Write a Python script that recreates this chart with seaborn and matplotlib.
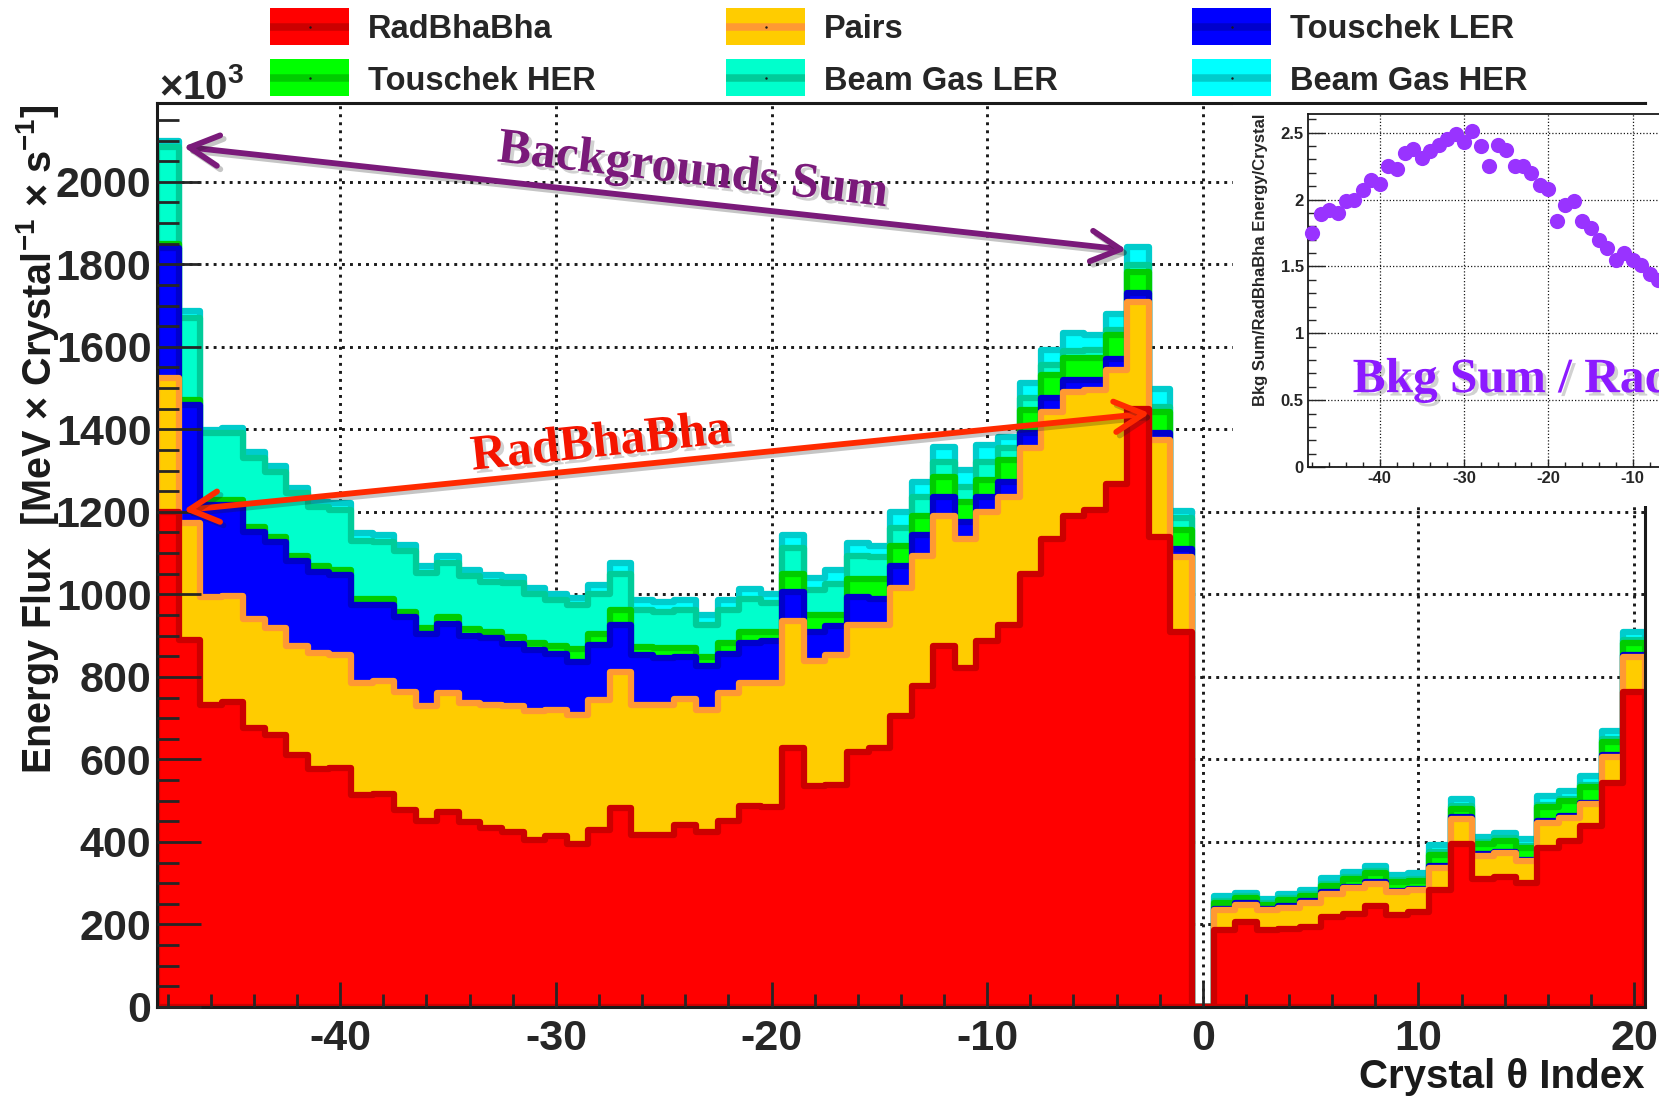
import numpy as np
import pandas as pd
import matplotlib
matplotlib.use('Agg')
import matplotlib.pyplot as plt
import matplotlib.patheffects as pe
from matplotlib.patches import Rectangle
from matplotlib.lines import Line2D
from matplotlib.colors import to_hex
from matplotlib.ticker import MultipleLocator, FuncFormatter
import seaborn as sns

# ---------------------------------------------------------------
# data: energy flux per crystal (x10^3 MeV / crystal / s), crystal theta index -48..20
crystal = np.arange(-48, 21)

rad = [1200, 890, 733, 739, 676, 658, 611, 577, 579, 513,
       517, 477, 451, 473, 449, 434, 424, 405, 414, 396,
       429, 482, 416, 418, 442, 424, 451, 487, 485, 628,
       536, 538, 618, 628, 706, 778, 875, 822, 887, 927,
       1050, 1134, 1191, 1204, 1268, 1450, 1138, 910,
       0,
       186, 207, 186, 189, 194, 218, 226, 245, 222, 229,
       283, 394, 310, 315, 301, 385, 402, 439, 543, 764]

pairs = [325, 284, 261, 258, 264, 260, 264, 280, 273, 273,
         272, 287, 278, 288, 288, 299, 305, 312, 306, 312,
         315, 330, 317, 315, 304, 296, 309, 299, 301, 307,
         302, 314, 309, 299, 309, 316, 315, 312, 313, 310,
         304, 309, 300, 291, 277, 259, 236, 180,
         0,
         49, 41, 49, 52, 59, 57, 62, 54, 57, 54,
         55, 62, 57, 57, 53, 62, 56, 52, 63, 84]

tous_ler = [315, 286, 223, 220, 210, 210, 205, 198, 196, 189,
            186, 181, 176, 167, 163, 162, 151, 148, 135, 127,
            134, 115, 119, 112, 102, 106, 96, 97, 101, 71,
            71, 71, 67, 62, 54, 49, 47, 42, 37, 36,
            36, 32, 29, 25, 25, 21, 18, 19,
            0,
            3, 3, 3, 3, 3, 3, 3, 3, 3, 3,
            4, 4, 3, 3, 3, 4, 4, 4, 4, 4]

tous_her = [10, 11, 12, 12, 13, 11, 14, 13, 11, 14,
            14, 13, 13, 18, 16, 14, 17, 18, 20, 33,
            25, 35, 21, 25, 22, 22, 27, 26, 22, 44,
            40, 26, 43, 48, 48, 48, 48, 49, 40, 53,
            57, 57, 52, 52, 59, 52, 51, 47,
            0,
            15, 13, 10, 15, 12, 16, 18, 22, 21, 20,
            27, 21, 24, 28, 28, 33, 37, 37, 33, 29]

bg_ler = [235, 199, 161, 161, 167, 158, 151, 145, 146, 141,
          139, 147, 134, 131, 128, 122, 130, 118, 112, 107,
          97, 88, 89, 88, 92, 79, 79, 80, 71, 62,
          62, 75, 57, 54, 44, 45, 37, 36, 45, 28,
          28, 24, 19, 20, 12, 16, 12, 28,
          0,
          5, 5, 4, 5, 5, 5, 6, 5, 5, 5,
          6, 6, 5, 6, 6, 6, 6, 7, 7, 8]

bg_her = [15, 18, 8, 14, 14, 14, 12, 12, 16, 19,
          17, 15, 17, 15, 15, 15, 15, 15, 15, 16,
          23, 25, 24, 24, 24, 22, 24, 24, 22, 33,
          29, 35, 31, 26, 39, 36, 36, 40, 40, 28,
          38, 36, 42, 37, 39, 44, 42, 18,
          0,
          10, 8, 9, 11, 11, 13, 13, 13, 12, 13,
          17, 18, 13, 13, 17, 21, 19, 22, 18, 21]

# inset: Bkg Sum / RadBhaBha, visible points for crystals -48..-7
ratio = [1.75, 1.89, 1.92, 1.90, 1.99, 2.00, 2.07, 2.15, 2.12, 2.25,
         2.23, 2.35, 2.38, 2.31, 2.36, 2.41, 2.45, 2.49, 2.43, 2.51,
         2.40, 2.25, 2.41, 2.37, 2.25, 2.25, 2.20, 2.11, 2.08, 1.84,
         1.96, 1.99, 1.84, 1.79, 1.70, 1.64, 1.55, 1.60, 1.55, 1.51,
         1.44, 1.40]

sources = ['RadBhaBha', 'Pairs', 'Touschek LER', 'Touschek HER', 'Beam Gas LER', 'Beam Gas HER']
fills = ['#ff0000', '#ffcc00', '#0000ff', '#00ff00', '#00ffcc', '#00ffff']
edges_col = ['#cc0000', '#ff9933', '#0000cc', '#00cc00', '#00cc99', '#00cccc']

# ---------------------------------------------------------------
sns.set_theme(style='white')
plt.rcParams['font.family'] = ['Liberation Sans', 'DejaVu Sans']
plt.rcParams['font.weight'] = 'bold'
plt.rcParams['axes.labelweight'] = 'bold'
plt.rcParams['axes.unicode_minus'] = False
plt.rcParams['mathtext.fontset'] = 'custom'
plt.rcParams['mathtext.rm'] = 'Liberation Sans'
plt.rcParams['mathtext.bf'] = 'Liberation Sans:bold'
plt.rcParams['mathtext.default'] = 'bf'

# stacked like ROOT THStack: every cumulative sum drawn from zero, biggest first
layers = np.array([rad, pairs, tous_ler, tous_her, bg_ler, bg_her], dtype=float)
cum = np.cumsum(layers, axis=0)
df = pd.concat([pd.DataFrame({'crystal': crystal, 'flux': cum[k], 'source': s})
                for k, s in enumerate(sources)], ignore_index=True)

fig = plt.figure(figsize=(16.59, 10.98), dpi=100)
ax = fig.add_axes([0.0946, 0.0829, 0.8969, 0.8233])

sns.histplot(data=df, x='crystal', weights='flux', hue='source', hue_order=sources,
             multiple='layer', binwidth=1, binrange=(crystal[0] - 0.5, crystal[-1] + 0.5),
             element='step', fill=True,
             palette=dict(zip(sources, fills)), alpha=1, linewidth=4.5,
             legend=False, ax=ax)

# darker outline per layer, lowest layer on top
for coll in ax.collections:
    k = fills.index(to_hex(coll.get_facecolor()[0]))
    coll.set_edgecolor(edges_col[k])
    coll.set_zorder(1.0 + 0.2 * (len(sources) - k))

ax.set_xlim(-48.5, 20.5)
ax.set_ylim(0, 2191)
ax.xaxis.set_major_locator(MultipleLocator(10))
ax.xaxis.set_minor_locator(MultipleLocator(2))
ax.yaxis.set_major_locator(MultipleLocator(200))
ax.yaxis.set_minor_locator(MultipleLocator(50))
ax.set_axisbelow(False)

# dotted grid behind the histograms
dots = (0, (1, 1.75))
for v in ax.get_yticks():
    if 0 < v < 2191:
        ax.axhline(v, color='k', lw=2.1, ls=dots, zorder=0.5)
for v in ax.get_xticks():
    if -48.5 < v < 20.5:
        ax.axvline(v, color='k', lw=2.1, ls=dots, zorder=0.5)

ax.tick_params(axis='y', which='major', direction='in', length=31.7, width=2,
               labelsize=31, pad=4, left=True, right=False)
ax.tick_params(axis='y', which='minor', direction='in', length=15.8, width=2, left=True, right=False)
ax.tick_params(axis='x', which='major', direction='in', length=18, width=2,
               labelsize=31, pad=9, bottom=True, top=False)
ax.tick_params(axis='x', which='minor', direction='in', length=9.4, width=2, bottom=True, top=False)
for s in ax.spines.values():
    s.set_color('k')
    s.set_linewidth(2.2)

ax.set_ylabel('Energy Flux  [MeV \u00d7 Crystal$^{-1}$ \u00d7 s$^{-1}$]', fontsize=28.5,
              fontweight='bold', color='k')
ax.yaxis.set_label_coords(-0.0642, 0.628)
ax.set_xlabel('Crystal \u03b8 Index', fontsize=29, fontweight='bold', color='k', loc='right')
ax.xaxis.set_label_coords(1.0, -0.056)

fig.text(159 / 1659, 1 - 99 / 1098, '\u00d710$^{3}$', fontsize=29, ha='left', va='baseline')

# arrows and labels
txt_shadow = [pe.withSimplePatchShadow(offset=(2.5, -2.5), shadow_rgbFace='k', alpha=0.2)]
arr_shadow = [pe.SimpleLineShadow(offset=(2.5, -2.5), shadow_color='k', alpha=0.25), pe.Normal()]
arrow_kw = dict(arrowstyle='<->,head_length=1.05,head_width=0.55', mutation_scale=20,
                shrinkA=0, shrinkB=0, lw=4.2, path_effects=arr_shadow)
total = cum[-1]
i_peak = list(crystal).index(-3)

ax.annotate('', xy=(crystal[0] + 0.72, total[0] - 15),
            xytext=(crystal[i_peak] - 0.53, total[i_peak] - 7),
            arrowprops=dict(color='#7a1a7a', **arrow_kw), zorder=5)
ax.annotate('', xy=(crystal[0] + 0.72, rad[0] + 4),
            xytext=(crystal[i_peak] + 0.55, rad[i_peak] - 11),
            arrowprops=dict(color='#ff2a00', **arrow_kw), zorder=5)

ax.text(-23.64, 2024, 'Backgrounds Sum', color='#7a1a7a', fontsize=36,
        family='Liberation Serif', weight='bold', rotation=-6.6, rotation_mode='anchor',
        ha='center', va='center', path_effects=txt_shadow, zorder=6)
ax.text(-27.9, 1364, 'RadBhaBha', color='#f51500', fontsize=36,
        family='Liberation Serif', weight='bold', rotation=6.0, rotation_mode='anchor',
        ha='center', va='center', path_effects=txt_shadow, zorder=6)

# legend, drawn by hand like the ROOT TLegend
patch_x = [270, 726, 1192]
text_x = [368, 824, 1290]
row_y = [26.5, 77.5]
W, H = 1659.0, 1098.0
for k, name in enumerate(sources):
    r, c = divmod(k, 3)
    x0 = patch_x[c] / W
    yc = 1 - row_y[r] / H
    fig.add_artist(Rectangle((x0, yc - 18 / H), 79 / W, 36 / H, transform=fig.transFigure,
                             facecolor=fills[k], edgecolor='none'))
    fig.add_artist(Line2D([x0, x0 + 79 / W], [yc, yc], transform=fig.transFigure,
                          color=edges_col[k], lw=5.4, solid_capstyle='butt'))
    fig.add_artist(Line2D([x0 + 39.5 / W], [yc], transform=fig.transFigure,
                          marker='.', ms=1.5, color='k', lw=0))
    fig.text(text_x[c] / W, yc, name, fontsize=23.5, ha='left', va='center_baseline')

# inset pad
fig.add_artist(Rectangle((1233 / W, 1 - 506 / H), 0.26, (506 - 105) / H,
                         transform=fig.transFigure, facecolor='white', edgecolor='none', zorder=1))

ax_in = fig.add_axes([1308 / W, 1 - 467 / H, 69 * 8.433 / W, (467 - 114) / H], zorder=3)
sns.scatterplot(x=crystal[:len(ratio)], y=ratio, color='#9933ff', s=120, linewidth=0,
                ax=ax_in, zorder=3, clip_on=False)
ax_in.set_xlim(-48.5, 20.5)
ax_in.set_ylim(0, 2.64)
ax_in.xaxis.set_major_locator(MultipleLocator(10))
ax_in.xaxis.set_minor_locator(MultipleLocator(2))
ax_in.yaxis.set_major_locator(MultipleLocator(0.5))
ax_in.yaxis.set_minor_locator(MultipleLocator(0.1))
ax_in.yaxis.set_major_formatter(FuncFormatter(lambda v, p: f'{v:g}'))
ax_in.set_axisbelow(True)
ax_in.grid(True, which='major', color='k', lw=0.9, ls=(0, (1, 1.6)))
ax_in.tick_params(axis='y', which='major', direction='in', length=12, width=1, labelsize=12, pad=3)
ax_in.tick_params(axis='y', which='minor', direction='in', length=6, width=1)
ax_in.tick_params(axis='x', which='major', direction='in', length=6, width=1, labelsize=12, pad=3)
ax_in.tick_params(axis='x', which='minor', direction='in', length=3.5, width=1)
ax_in.tick_params(left=True, bottom=True, right=False, top=False, which='both')
for s in ax_in.spines.values():
    s.set_color('k')
    s.set_linewidth(1.3)
ax_in.set_xlabel('')
ax_in.set_ylabel('Bkg Sum/RadBhaBha Energy/Crystal', fontsize=12, fontweight='bold', loc='top')
ax_in.yaxis.set_label_coords(-0.069, 1.0)
ax_in.text(-43.2, 0.56, 'Bkg Sum / RadBhaBha', color='#8c1aff', fontsize=35.5,
           family='Liberation Serif', weight='bold', ha='left', va='baseline',
           path_effects=txt_shadow, clip_on=False)

fig.savefig('out.png', dpi=100)
